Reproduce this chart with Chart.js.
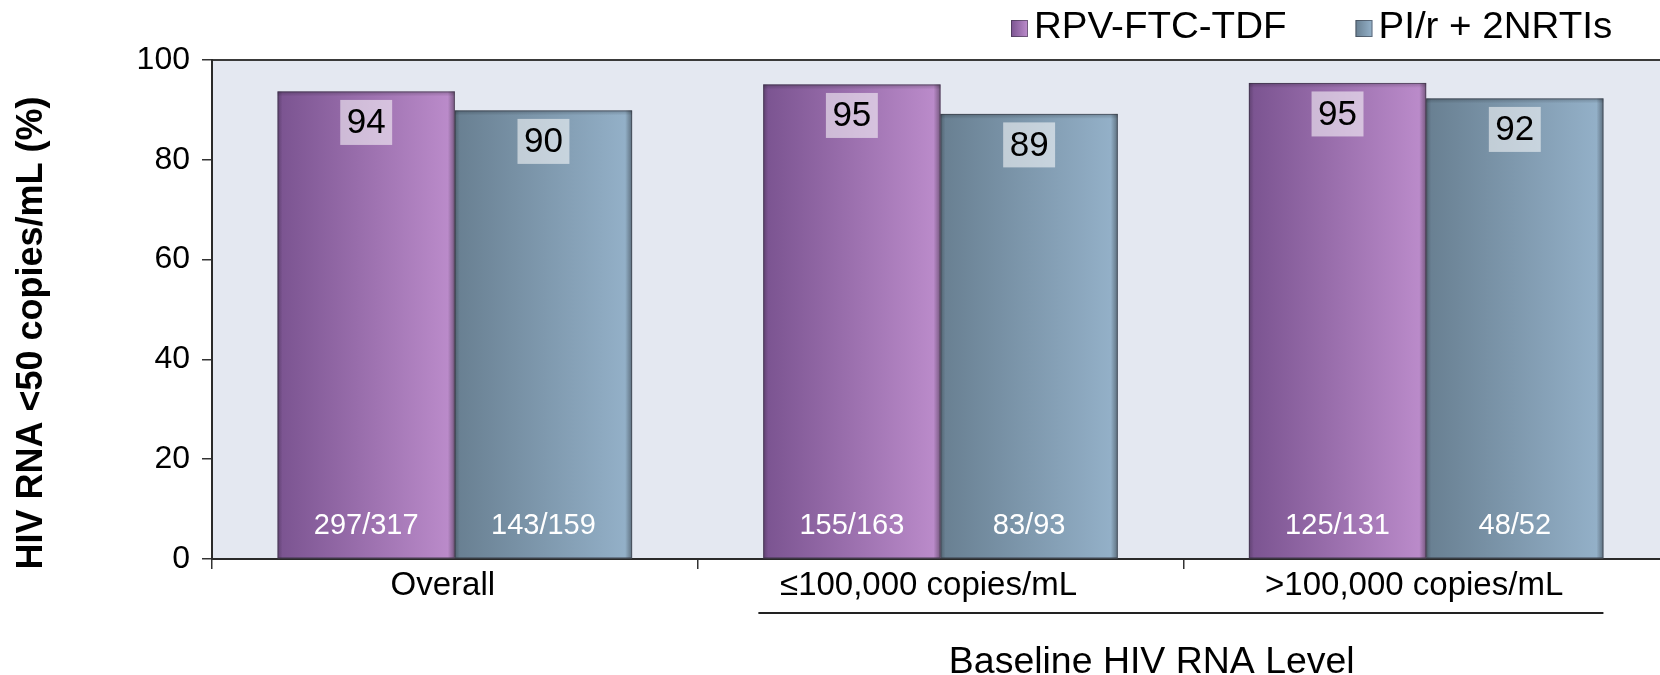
<!DOCTYPE html>
<html>
<head>
<meta charset="utf-8">
<script src="https://cdn.jsdelivr.net/npm/chart.js@4/dist/chart.umd.min.js"></script>
<style>
  html, body { margin: 0; padding: 0; background: #ffffff; overflow: hidden; }
  #wrap { width: 1669px; height: 675px; }
</style>
</head>
<body>
<div id="wrap"><canvas id="c" width="1669" height="675"></canvas></div>
<script>
// ---- data ----
const categories = ['Overall', '≤100,000 copies/mL', '>100,000 copies/mL'];
const seriesNames = ['RPV-FTC-TDF', 'PI/r + 2NRTIs'];
const rpvValues = [93.7, 95.1, 95.4];
const pirValues = [89.9, 89.2, 92.3];
const rpvLabels = ['94', '95', '95'];
const pirLabels = ['90', '89', '92'];
const rpvCounts = ['297/317', '155/163', '125/131'];
const pirCounts = ['143/159', '83/93', '48/52'];
const yTicks = [0, 20, 40, 60, 80, 100];
const yTitle = 'HIV RNA <50 copies/mL (%)';
const groupTitle = 'Baseline HIV RNA Level';

// ---- styles ----
const FONT = '"Liberation Sans", Arial, Helvetica, sans-serif';
const palette = [
  { left: '#7a5390', right: '#bd8dcc', flat: '#9c72b0', box: 'rgba(255,255,255,0.55)' },
  { left: '#687f91', right: '#95b2ca', flat: '#809cb2', box: 'rgba(255,255,255,0.55)' }
];
const valueLabels = [rpvLabels, pirLabels];
const countLabels = [rpvCounts, pirCounts];

function barGradient(chart, left, right, pal) {
  const g = chart.ctx.createLinearGradient(left, 0, right, 0);
  g.addColorStop(0, pal.left);
  g.addColorStop(1, pal.right);
  return g;
}

function scriptBg(dsIndex) {
  return (c) => {
    const el = c.element;
    const pal = palette[dsIndex];
    if (!el || el.x == null || !el.width || isNaN(el.x)) return pal.flat;
    return barGradient(c.chart, el.x - el.width / 2, el.x + el.width / 2, pal);
  };
}

function stretchedText(ctx, text, x, y, sx, align) {
  ctx.save();
  ctx.translate(x, y);
  ctx.scale(sx, 1);
  ctx.textAlign = align;
  ctx.fillText(text, 0, 0);
  const w = ctx.measureText(text).width * sx;
  ctx.restore();
  return w;
}

const bgPlugin = {
  id: 'plotBg',
  beforeDraw(chart) {
    const { ctx, chartArea: a } = chart;
    ctx.save();
    ctx.fillStyle = '#e4e8f1';
    ctx.fillRect(a.left, a.top, a.right - a.left, a.bottom - a.top);
    ctx.strokeStyle = '#3a3a3a';
    ctx.lineWidth = 2;
    ctx.beginPath();
    ctx.moveTo(a.left, a.top);
    ctx.lineTo(a.right, a.top);
    ctx.stroke();
    ctx.restore();
  }
};

const decoPlugin = {
  id: 'deco',
  afterDatasetsDraw(chart) {
    const { ctx } = chart;
    ctx.save();
    chart.data.datasets.forEach((ds, di) => {
      const meta = chart.getDatasetMeta(di);
      meta.data.forEach((el, i) => {
        const w = el.width;
        const l = el.x - w / 2, r = el.x + w / 2, t = el.y, b = el.base;
        const gr = ctx.createLinearGradient(r - 7, 0, r, 0);
        gr.addColorStop(0, 'rgba(0,0,0,0)');
        gr.addColorStop(1, 'rgba(0,0,0,0.38)');
        ctx.fillStyle = gr;
        ctx.fillRect(r - 7, t, 7, b - t);
        const gl = ctx.createLinearGradient(l, 0, l + 5, 0);
        gl.addColorStop(0, 'rgba(0,0,0,0.22)');
        gl.addColorStop(1, 'rgba(0,0,0,0)');
        ctx.fillStyle = gl;
        ctx.fillRect(l, t, 5, b - t);
        const gt = ctx.createLinearGradient(0, t, 0, t + 5);
        gt.addColorStop(0, 'rgba(0,0,0,0.22)');
        gt.addColorStop(1, 'rgba(0,0,0,0)');
        ctx.fillStyle = gt;
        ctx.fillRect(l, t, w, 5);
        ctx.strokeStyle = 'rgba(50,50,60,0.55)';
        ctx.lineWidth = 1;
        ctx.strokeRect(l + 0.5, t + 0.5, w - 1, b - t - 1);

        const txt = valueLabels[di][i];
        ctx.font = '35px ' + FONT;
        const tw = ctx.measureText(txt).width;
        const bw = tw + 13, bh = 45;
        const by = t + 8.5;
        ctx.fillStyle = palette[di].box;
        ctx.fillRect(el.x - bw / 2, by, bw, bh);
        ctx.fillStyle = '#000000';
        ctx.textAlign = 'center';
        ctx.textBaseline = 'middle';
        ctx.fillText(txt, el.x, by + bh / 2 + 1);

        ctx.font = '29px ' + FONT;
        ctx.fillStyle = '#ffffff';
        ctx.fillText(countLabels[di][i], el.x, b - 32);
      });
    });
    ctx.restore();
  },
  afterDraw(chart) {
    const { ctx } = chart;
    const xs = chart.scales.x;
    ctx.save();
    ctx.font = 'bold 36px ' + FONT;
    ctx.fillStyle = '#000000';
    ctx.textAlign = 'center';
    ctx.textBaseline = 'middle';
    ctx.translate(32, 333);
    ctx.rotate(-Math.PI / 2);
    ctx.fillText(yTitle, 0, 0);
    ctx.restore();

    ctx.save();
    const c1 = xs.getPixelForValue(1), c2 = xs.getPixelForValue(2);
    const cw = c2 - c1;
    ctx.strokeStyle = '#222222';
    ctx.lineWidth = 2;
    ctx.beginPath();
    ctx.moveTo(c1 - 0.375 * cw, 613);
    ctx.lineTo(c2 + 0.365 * cw, 613);
    ctx.stroke();
    ctx.font = '36px ' + FONT;
    ctx.fillStyle = '#000000';
    ctx.textBaseline = 'alphabetic';
    stretchedText(ctx, groupTitle, (c1 + c2) / 2 - 0.065 * cw, 673, 1.04, 'center');
    ctx.restore();

    ctx.save();
    ctx.font = '36px ' + FONT;
    ctx.textBaseline = 'alphabetic';
    let x = 1011;
    seriesNames.forEach((name, di) => {
      const sz = 17, sy = 20;
      ctx.fillStyle = barGradient(chart, x, x + sz, palette[di]);
      ctx.fillRect(x, sy, sz, sz);
      ctx.strokeStyle = 'rgba(40,40,50,0.5)';
      ctx.lineWidth = 1;
      ctx.strokeRect(x + 0.5, sy + 0.5, sz - 1, sz - 1);
      const tx = x + sz + 6;
      ctx.fillStyle = '#000000';
      const w = stretchedText(ctx, name, tx, 38, 1.07, 'left');
      x = tx + w + 69;
    });
    ctx.restore();
  }
};

const chart = new Chart(document.getElementById('c'), {
  type: 'bar',
  data: {
    labels: categories,
    datasets: [
      { label: seriesNames[0], data: rpvValues, backgroundColor: scriptBg(0), borderWidth: 0 },
      { label: seriesNames[1], data: pirValues, backgroundColor: scriptBg(1), borderWidth: 0 }
    ]
  },
  options: {
    responsive: false,
    animation: false,
    devicePixelRatio: 1,
    layout: { padding: { top: 60, left: 0, right: 0, bottom: 0 } },
    datasets: { bar: { categoryPercentage: 0.73, barPercentage: 1.0 } },
    plugins: { legend: { display: false }, tooltip: { enabled: false } },
    scales: {
      x: {
        grid: { display: true, drawOnChartArea: false, drawTicks: true, tickLength: 10, color: '#333333', lineWidth: 1.5, offset: true },
        border: { display: true, color: '#2a2a2a', width: 2 },
        ticks: { color: '#000000', font: { family: FONT, size: 33 }, padding: -3, labelOffset: -12, maxRotation: 0, autoSkip: false },
        afterFit: (s) => { s.height = 116; }
      },
      y: {
        min: 0, max: 100,
        grid: { display: true, drawOnChartArea: false, drawTicks: true, tickLength: 10, color: '#333333', lineWidth: 1.5 },
        border: { display: true, color: '#2a2a2a', width: 2 },
        ticks: { color: '#000000', font: { family: FONT, size: 32 }, padding: 12, stepSize: 20 },
        afterBuildTicks: (s) => { s.ticks = yTicks.map(v => ({ value: v })); },
        afterFit: (s) => { s.width = 212; }
      }
    }
  },
  plugins: [bgPlugin, decoPlugin]
});
chart.update('none');
</script>
</body>
</html>
